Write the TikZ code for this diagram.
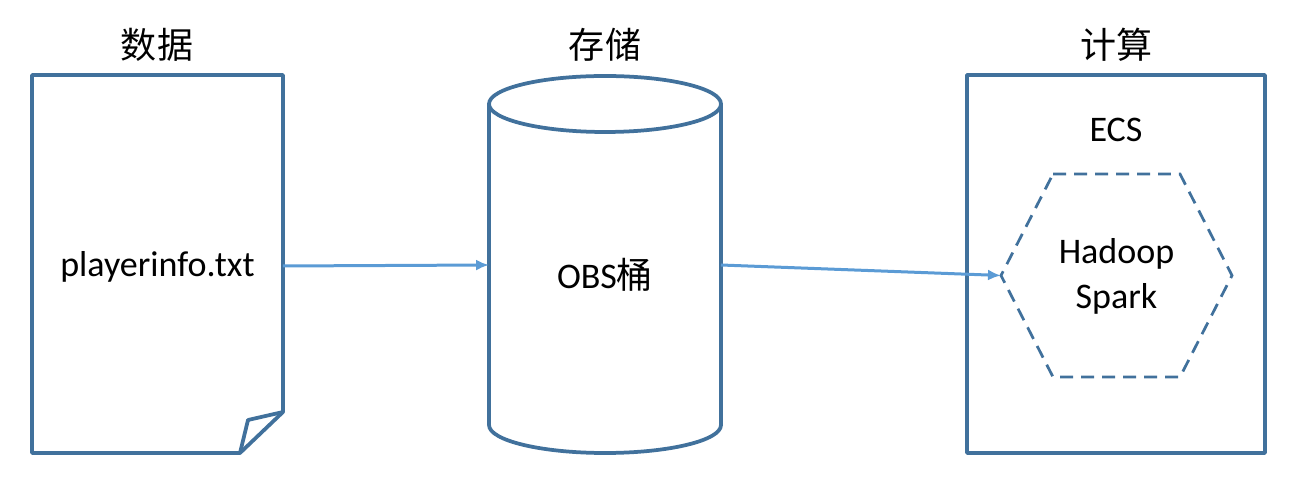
\documentclass[tikz,border=0pt]{standalone}
\usepackage{fontspec}
\setmainfont{Carlito}
\newfontfamily\cjk{Noto Sans CJK SC}
\usetikzlibrary{arrows.meta}
\definecolor{boxblue}{HTML}{41719C}
\definecolor{linkblue}{HTML}{5B9BD5}

\begin{document}
\begin{tikzpicture}[x=0.02cm, y=-0.02cm,
    box/.style = {draw=boxblue, line width=0.075cm, line join=round},
    hexline/.style = {draw=boxblue, line width=0.055cm, dash pattern=on 0.26cm off 0.16cm},
    link/.style = {draw=linkblue, line width=0.06cm, -{Latex[length=0.26cm, width=0.22cm]}},
    title/.style = {font=\cjk\fontsize{20.5}{25.6}\selectfont},
    word/.style = {font=\fontsize{20.5}{25.6}\selectfont}]
    \useasboundingbox (0,0) rectangle (1310,492);

    % data
    \node[minimum width=5.02cm, minimum height=7.56cm, inner sep=0, outer sep=0] (doc) at (157.5,266) {};
    \draw[box] (32,75) -- (283,75) -- (283,412) -- (240,453) -- (32,453) -- cycle;
    \draw[box] (283,412) -- (248,420) -- (240,453);
    \node[word, anchor=base] (file) at (157.5,277) {playerinfo.txt};
    \node[title] (t1) at (157,45) {数据};

    % storage
    \node[minimum width=4.64cm, minimum height=7.54cm, inner sep=0, outer sep=0] (obs) at (605,265) {};
    \draw[box] (605,104) ellipse [x radius=116, y radius=28];
    \draw[box] (489,104) -- (489,425) arc [start angle=180, end angle=0, x radius=116, y radius=28] -- (721,104);
    \node[word, anchor=base] (bucket) at (605,289) {OBS{\cjk 桶}};
    \node[title] (t2) at (605,45) {存储};

    % compute
    \node[box, minimum width=5.96cm, minimum height=7.56cm, inner sep=0, outer sep=0] (ecs) at (1116,264) {};
    \node[word, anchor=base] (ecsname) at (1116,142) {ECS};
    \node[word, align=center] (hex) at (1116.5,276.5) {Hadoop\\Spark};
    \draw[hexline] (1053,174) -- (1180,174) -- (1232,275.5) -- (1180,377) -- (1053,377) -- (1001,275.5) -- cycle;
    \coordinate (hexW) at (1001,275.5);
    \node[title] (t3) at (1116,45) {计算};

    \draw[link] (doc.east) -- (obs.west);
    \draw[link] (obs.east) -- (hexW);
\end{tikzpicture}
\end{document}
